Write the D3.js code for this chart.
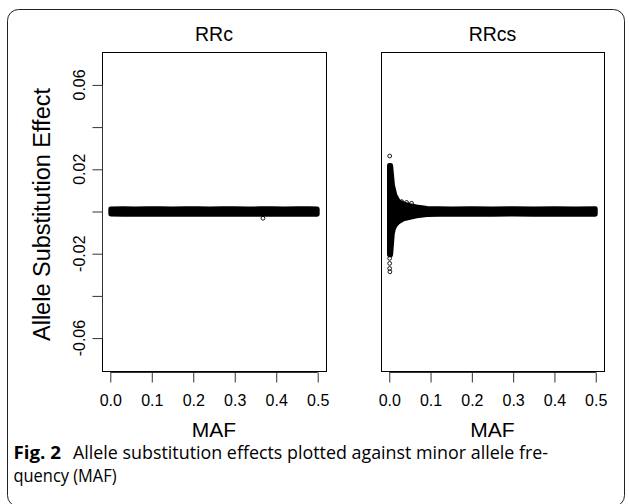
<!DOCTYPE html>
<html>
<head>
<meta charset="utf-8">
<script src="https://cdn.jsdelivr.net/npm/d3@7"></script>
<style>
  body { margin: 0; background: #fff; }
  text { font-family: "Liberation Sans", Arial, sans-serif; fill: #000; }
</style>
</head>
<body>
<div id="chart"></div>
<script>
// panel titles and axes
const panelNames = ['RRc', 'RRcs'];
const xTicks = [0, 0.1, 0.2, 0.3, 0.4, 0.5];
const yTicks = [-0.06, -0.04, -0.02, 0, 0.02, 0.04, 0.06];
const yTickLabels = [-0.06, -0.02, 0.02, 0.06];
const xLimits = [0, 0.5];
const yLimits = [-0.07, 0.07];

// RRc: envelope of the dense point cloud (MAF, upper, lower effect)
const rrcMaf = [0.001, 0.03, 0.06, 0.09, 0.12, 0.15, 0.18, 0.21, 0.24, 0.27, 0.30, 0.33, 0.36, 0.39, 0.42, 0.45, 0.48, 0.499];
const rrcHi  = [0.0012, 0.0013, 0.0012, 0.0014, 0.0013, 0.0012, 0.0014, 0.0013, 0.0012, 0.0014, 0.0013, 0.0012, 0.0013, 0.0014, 0.0012, 0.0013, 0.0014, 0.0012];
const rrcLo  = [-0.0012, -0.0013, -0.0014, -0.0012, -0.0013, -0.0014, -0.0012, -0.0013, -0.0014, -0.0013, -0.0012, -0.0014, -0.0013, -0.0012, -0.0013, -0.0014, -0.0012, -0.0013];
// RRc: points standing out of the cloud
const rrcOutMaf = [0.368];
const rrcOutEff = [-0.0032];

// RRcs: envelope of the dense point cloud
const rrcsMaf = [0.0003, 0.0035, 0.008, 0.014, 0.022, 0.034, 0.05, 0.066, 0.091, 0.12, 0.15, 0.2, 0.25, 0.3, 0.35, 0.4, 0.45, 0.499];
const rrcsHi  = [0.0218, 0.0218, 0.0124, 0.0076, 0.0048, 0.0036, 0.0028, 0.0022, 0.0015, 0.0013, 0.0012, 0.0013, 0.0012, 0.0014, 0.0012, 0.0013, 0.0012, 0.0013];
const rrcsLo  = [-0.0205, -0.0205, -0.0094, -0.0065, -0.0049, -0.0035, -0.0028, -0.0021, -0.0015, -0.0013, -0.0012, -0.0013, -0.0014, -0.0012, -0.0013, -0.0012, -0.0014, -0.0013];
// RRcs: points standing out of the cloud
const rrcsOutMaf = [0.001, 0.001, 0.001, 0.001, 0.0015, 0.010, 0.009, 0.018, 0.030, 0.042, 0.054, 0.026, 0.034];
const rrcsOutEff = [0.0263, -0.0222, -0.0246, -0.0270, -0.0286, 0.0086, -0.0096, 0.0056, 0.0047, 0.0043, 0.0039, -0.0034, -0.0028];

const width = 629, height = 504;

const svg = d3.select('#chart').append('svg')
  .attr('width', width)
  .attr('height', height);

svg.append('rect').attr('width', width).attr('height', height).attr('fill', '#fff');

// rounded frame round the figure
svg.append('rect')
  .attr('x', 7.5).attr('y', 9.5)
  .attr('width', 617).attr('height', 497)
  .attr('rx', 11)
  .attr('fill', 'none')
  .attr('stroke', '#222')
  .attr('stroke-width', 1);

const boxTop = 52, boxBottom = 371;
const panels = [
  { name: panelNames[0], left: 102, right: 326, showY: true,
    env: rrcMaf.map((m, i) => ({ maf: m, hi: rrcHi[i], lo: rrcLo[i] })),
    out: rrcOutMaf.map((m, i) => ({ maf: m, eff: rrcOutEff[i] })) },
  { name: panelNames[1], left: 381, right: 604, showY: false,
    env: rrcsMaf.map((m, i) => ({ maf: m, hi: rrcsHi[i], lo: rrcsLo[i] })),
    out: rrcsOutMaf.map((m, i) => ({ maf: m, eff: rrcsOutEff[i] })) }
];

// R style 4% extension of the limits
const pad = (lim) => {
  const d = (lim[1] - lim[0]) * 0.04;
  return [lim[0] - d, lim[1] + d];
};

const y = d3.scaleLinear().domain(pad(yLimits)).range([boxBottom, boxTop]);

panels.forEach(p => {
  const x = d3.scaleLinear().domain(pad(xLimits)).range([p.left, p.right]);
  const g = svg.append('g');

  // dense cloud
  const area = d3.area()
    .x(d => x(d.maf))
    .y0(d => y(d.lo))
    .y1(d => y(d.hi));

  g.append('path')
    .datum(p.env)
    .attr('d', area)
    .attr('fill', '#000')
    .attr('stroke', '#000')
    .attr('stroke-width', 4.8)
    .attr('stroke-linejoin', 'round');

  // single points
  g.selectAll('circle.pt')
    .data(p.out)
    .join('circle')
    .attr('class', 'pt')
    .attr('cx', d => x(d.maf))
    .attr('cy', d => y(d.eff))
    .attr('r', 1.9)
    .attr('fill', 'none')
    .attr('stroke', '#000')
    .attr('stroke-width', 0.9);

  // plot box
  g.append('rect')
    .attr('x', p.left + 0.5).attr('y', boxTop + 0.5)
    .attr('width', p.right - p.left).attr('height', boxBottom - boxTop)
    .attr('fill', 'none')
    .attr('stroke', '#000')
    .attr('stroke-width', 1);

  // x axis
  const xAxis = g.append('g')
    .attr('transform', `translate(0,${boxBottom + 1.5})`)
    .call(d3.axisBottom(x).tickValues(xTicks).tickSize(10).tickSizeOuter(0)
      .tickPadding(12).tickFormat(d3.format('.1f')));
  xAxis.select('.domain')
    .attr('d', `M${x(xTicks[0])},0H${x(xTicks[xTicks.length - 1])}`)
    .attr('stroke', '#333');
  xAxis.selectAll('.tick line').attr('stroke', '#333');
  xAxis.selectAll('.tick text')
    .attr('font-size', 16)
    .attr('font-family', '"Liberation Sans", Arial, sans-serif')
    .attr('fill', '#000');

  g.append('text')
    .attr('x', (p.left + p.right) / 2)
    .attr('y', 436.5)
    .attr('text-anchor', 'middle')
    .attr('font-size', 21)
    .text('MAF');

  // panel title
  g.append('text')
    .attr('x', (p.left + p.right) / 2)
    .attr('y', 41)
    .attr('text-anchor', 'middle')
    .attr('font-size', 19.5)
    .text(p.name);

  if (p.showY) {
    const yAxis = g.append('g')
      .attr('transform', `translate(${p.left + 0.5},0)`)
      .call(d3.axisLeft(y).tickValues(yTicks).tickSize(10).tickSizeOuter(0).tickFormat(''));
    yAxis.select('.domain')
      .attr('d', `M0,${y(yTicks[0])}V${y(yTicks[yTicks.length - 1])}`)
      .attr('stroke', '#333');
    yAxis.selectAll('.tick line').attr('stroke', '#333');

    g.selectAll('text.ylab')
      .data(yTickLabels)
      .join('text')
      .attr('class', 'ylab')
      .attr('transform', d => `translate(85,${y(d)}) rotate(-90)`)
      .attr('text-anchor', 'middle')
      .attr('font-size', 16)
      .text(d => d.toFixed(2));

    g.append('text')
      .attr('transform', `translate(50,${(boxTop + boxBottom) / 2 + 3}) rotate(-90)`)
      .attr('text-anchor', 'middle')
      .attr('font-size', 23.5)
      .text('Allele Substitution Effect');
  }
});

// caption
const cap = svg.append('g');
cap.append('text')
  .attr('x', 13.5).attr('y', 459)
  .attr('font-size', 17.5)
  .attr('font-weight', 'bold')
  .attr('textLength', 47.5)
  .attr('lengthAdjust', 'spacingAndGlyphs')
  .style('font-family', '"Open Sans", sans-serif')
  .text('Fig. 2');
cap.append('text')
  .attr('x', 73).attr('y', 459)
  .attr('font-size', 17.5)
  .attr('textLength', 475)
  .attr('lengthAdjust', 'spacingAndGlyphs')
  .style('font-family', '"Open Sans", sans-serif')
  .text('Allele substitution effects plotted against minor allele fre-');
cap.append('text')
  .attr('x', 13.5).attr('y', 482)
  .attr('font-size', 17.5)
  .attr('textLength', 103)
  .attr('lengthAdjust', 'spacingAndGlyphs')
  .style('font-family', '"Open Sans", sans-serif')
  .text('quency (MAF)');
</script>
</body>
</html>
